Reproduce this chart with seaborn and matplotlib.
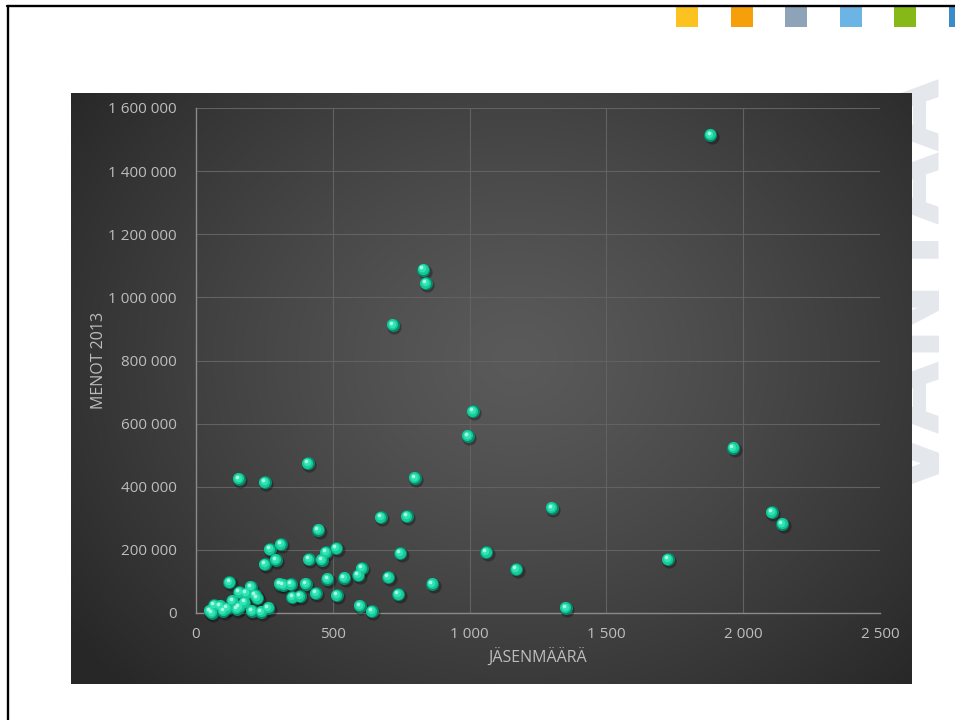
import numpy as np
import matplotlib
matplotlib.use("Agg")
import matplotlib.pyplot as plt
import matplotlib.transforms as mtransforms
from matplotlib.patches import Rectangle
from matplotlib.lines import Line2D
import pandas as pd
import seaborn as sns

# Members per association and their 2013 expenses (EUR)
members = [1880, 830, 840, 720, 1012, 994, 1963, 409, 157, 252,
           800, 1301, 2105, 2142, 676, 771, 447, 1725, 1060, 1170,
           863, 1352, 746, 702, 739, 643, 270, 310, 252, 292,
           413, 459, 474, 512, 480, 542, 593, 606, 307, 319,
           347, 402, 437, 352, 379, 514, 599, 122, 201, 158,
           183, 216, 224, 133, 177, 158, 264, 66, 88, 112,
           51, 57, 100, 149, 204, 238]
expenses = [1515000, 1088000, 1045000, 913000, 640000, 561000, 523000, 475000, 425000, 415000,
            428000, 333000, 320000, 282000, 304000, 307000, 263000, 171000, 193000, 139000,
            92000, 16000, 190000, 114000, 59000, 6000, 202000, 218000, 154000, 169000,
            170000, 168000, 192000, 205000, 108000, 112000, 120000, 142000, 92000, 89000,
            91000, 92000, 62000, 50000, 53000, 57000, 23000, 97000, 83000, 66000,
            62000, 57000, 47000, 39000, 33000, 20000, 17000, 25000, 23000, 15000,
            7000, 1000, 7000, 13000, 7000, 4000]

x_ticks = [0, 500, 1000, 1500, 2000, 2500]
x_tick_labels = ["0", "500", "1 000", "1 500", "2 000", "2 500"]
y_ticks = [0, 200000, 400000, 600000, 800000, 1000000, 1200000, 1400000, 1600000]
y_tick_labels = ["0", "200 000", "400 000", "600 000", "800 000",
                 "1 000 000", "1 200 000", "1 400 000", "1 600 000"]
x_label = "JÄSENMÄÄRÄ"
y_label = "MENOT 2013"
watermark = "VANTAA"
stripe_colors = ["#fcc220", "#f5a00a", "#8fa3b8", "#6cb4e4", "#86b817", "#3a8cc8"]

sns.set_theme(style="dark")
plt.rcParams["font.family"] = ["Open Sans", "DejaVu Sans"]

W, H = 955, 720
fig = plt.figure(figsize=(W / 100, H / 100), dpi=100, facecolor="white")


def rect(x0, y0, x1, y1):
    """Pixel box (top-left origin) -> figure fraction [l, b, w, h]."""
    return [x0 / W, 1 - y1 / H, (x1 - x0) / W, (y1 - y0) / H]


# Slide frame
fig.add_artist(Line2D([7 / W, 1], [1 - 6 / H, 1 - 6 / H], color="black", lw=1.7,
                      transform=fig.transFigure))
fig.add_artist(Line2D([8 / W, 8 / W], [1 - 6 / H, 0], color="black", lw=1.7,
                      transform=fig.transFigure))

# Colour stripe in the header
for i, col in enumerate(stripe_colors):
    x0 = 676 + i * 54.6
    fig.add_artist(Rectangle((x0 / W, 1 - 27 / H), 22 / W, 20 / H, color=col,
                             transform=fig.transFigure, lw=0))

# City watermark behind the chart panel, running off the right edge
fig.text(868 / W, 1 - 288 / H, watermark, rotation=90, ha="left", va="center",
         fontsize=68, fontweight="bold", color="#e4e7ec", family="DejaVu Sans",
         zorder=-5)

# Dark gradient panel
bg = fig.add_axes(rect(71, 93, 911, 684), zorder=0)
ny, nx = 300, 440
yy, xx = np.mgrid[0:1:ny * 1j, 0:1:nx * 1j]
r = np.sqrt(((xx - 0.53) / 0.66) ** 2 + ((yy - 0.45) / 0.80) ** 2)
t = np.clip(r, 0, 1) ** 1.25
c0 = np.array([0x5a, 0x5a, 0x5a]) / 255
c1 = np.array([0x27, 0x27, 0x27]) / 255
img = c0[None, None, :] * (1 - t[..., None]) + c1[None, None, :] * t[..., None]
bg.imshow(img, aspect="auto", extent=[0, 1, 0, 1], origin="upper")
bg.set_axis_off()

# Plot axes
ax = fig.add_axes(rect(196, 108, 880, 613), zorder=1)
ax.set_facecolor("none")

df = pd.DataFrame({"members": members, "expenses": expenses})


def sphere_layer(dx, dy, **kw):
    sns.scatterplot(data=df, x="members", y="expenses", ax=ax, legend=False,
                    linewidth=0, **kw)
    coll = ax.collections[-1]
    coll.set_offset_transform(mtransforms.offset_copy(ax.transData, fig=fig,
                                                      x=dx, y=dy, units="dots"))
    coll.set_clip_on(False)


sphere_layer(1.5, -2.0, s=105, color="black", alpha=0.3, zorder=3)
sphere_layer(0, 0, s=88, color="#078a6b", zorder=4)
sphere_layer(-0.5, 0.5, s=64, color="#15c999", zorder=5)
sphere_layer(-1.0, 1.1, s=30, color="#30e4b4", zorder=6)
sphere_layer(-1.8, 2.1, s=7, color="#a8f7df", zorder=7)

ax.set_xlim(0, 2500)
ax.set_ylim(0, 1600000)
ax.set_xticks(x_ticks)
ax.set_xticklabels(x_tick_labels)
ax.set_yticks(y_ticks)
ax.set_yticklabels(y_tick_labels)
ax.tick_params(length=0, labelsize=11, labelcolor="#bdbdbd")
ax.tick_params(axis="x", pad=10)
ax.tick_params(axis="y", pad=14)

ax.grid(True, color="#626262", lw=0.8)
ax.xaxis.get_gridlines()[-1].set_visible(False)
ax.xaxis.get_gridlines()[0].set_visible(False)
ax.set_axisbelow(True)

for side in ("top", "right"):
    ax.spines[side].set_visible(False)
for side in ("left", "bottom"):
    ax.spines[side].set_visible(True)
    ax.spines[side].set_color("#8a8a8a")
    ax.spines[side].set_linewidth(1.0)

ax.set_xlabel(x_label, fontsize=11.5, color="#bdbdbd")
ax.set_ylabel(y_label, fontsize=11.5, color="#bdbdbd")
ax.xaxis.set_label_coords(0.5, -0.071)
ax.yaxis.set_label_coords(-0.130, 0.5)

fig.savefig("out.png", dpi=100, facecolor="white")
